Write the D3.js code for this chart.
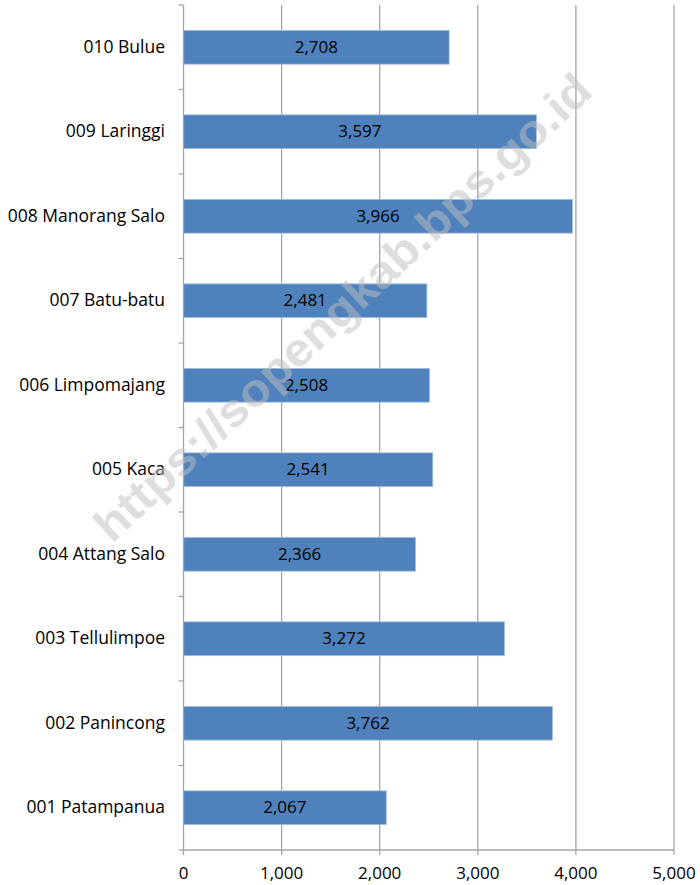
<!DOCTYPE html>
<html><head><meta charset="utf-8">
<script src="https://cdn.jsdelivr.net/npm/d3@7"></script>
<style>body{margin:0;background:#fff}svg{display:block}</style>
</head><body>
<script>
const categories = ["010 Bulue","009 Laringgi","008 Manorang Salo","007 Batu-batu","006 Limpomajang","005 Kaca","004 Attang Salo","003 Tellulimpoe","002 Panincong","001 Patampanua"];
const values = [2708,3597,3966,2481,2508,2541,2366,3272,3762,2067];
const xTicks = [0,1000,2000,3000,4000,5000];
const watermark = "https://sopengkab.bps.go.id";

const W=700,H=885;
const svg=d3.select("body").append("svg").attr("width",W).attr("height",H);
const x=d3.scaleLinear().domain([0,5000]).range([183.5,674]);
const y=d3.scaleBand().domain(categories).range([5,850]).paddingInner(0.6).paddingOuter(0.3);
const yb=d3.scaleBand().domain(categories).range([5,850]);
const font="'Open Sans', sans-serif";
const grid="#a6a6a6";

// gridlines
svg.append("g").selectAll("line").data(xTicks.slice(1)).join("line")
  .attr("x1",d=>x(d)).attr("x2",d=>x(d)).attr("y1",5).attr("y2",855)
  .attr("stroke",grid).attr("stroke-width",1.3);
svg.append("line").attr("x1",x(0)).attr("x2",x(0)).attr("y1",850).attr("y2",855).attr("stroke",grid).attr("stroke-width",1.3);

// bars
svg.append("g").selectAll("rect").data(values).join("rect")
  .attr("x",x(0)).attr("y",(d,i)=>y(categories[i]))
  .attr("width",d=>x(d)-x(0)).attr("height",y.bandwidth())
  .attr("fill","#4f81bd").attr("stroke","#a7c0de").attr("stroke-width",0.8);

// axes
svg.append("line").attr("x1",x(0)).attr("x2",x(5000)).attr("y1",850).attr("y2",850).attr("stroke",grid).attr("stroke-width",1.3);
svg.append("line").attr("x1",x(0)).attr("x2",x(0)).attr("y1",5).attr("y2",850).attr("stroke",grid).attr("stroke-width",1.3);
const bounds=categories.map(c=>yb(c)).concat([850]);
svg.append("g").selectAll("line").data(bounds).join("line")
  .attr("x1",x(0)-5).attr("x2",x(0)).attr("y1",d=>d).attr("y2",d=>d)
  .attr("stroke",grid).attr("stroke-width",1.3);

// category labels
svg.append("g").selectAll("text").data(categories).join("text")
  .attr("x",165).attr("y",c=>yb(c)+yb.bandwidth()/2+1)
  .attr("text-anchor","end").attr("dominant-baseline","middle")
  .attr("font-family",font).attr("font-size",17.5).attr("fill","#000").text(c=>c);

// value labels
const fmt=d3.format(",");
svg.append("g").selectAll("text").data(values).join("text")
  .attr("x",d=>(x(0)+x(d))/2).attr("y",(d,i)=>y(categories[i])+y.bandwidth()/2+1)
  .attr("text-anchor","middle").attr("dominant-baseline","middle")
  .attr("font-family",font).attr("font-size",17).attr("fill","#000").text(d=>fmt(d));

// x tick labels
svg.append("g").selectAll("text").data(xTicks).join("text")
  .attr("x",d=>x(d)).attr("y",874).attr("text-anchor","middle").attr("dominant-baseline","middle")
  .attr("font-family",font).attr("font-size",17).attr("fill","#000").text(d=>fmt(d));

// watermark
svg.append("text").attr("transform","translate(345,310) rotate(-43)")
  .attr("text-anchor","middle").attr("dominant-baseline","middle")
  .attr("font-family","'Liberation Sans', sans-serif").attr("font-weight","bold").attr("font-size",46)
  .attr("textLength",660).attr("lengthAdjust","spacingAndGlyphs")
  .attr("fill","#bfbfbf").attr("opacity",0.5).text(watermark);
</script>
</body></html>
